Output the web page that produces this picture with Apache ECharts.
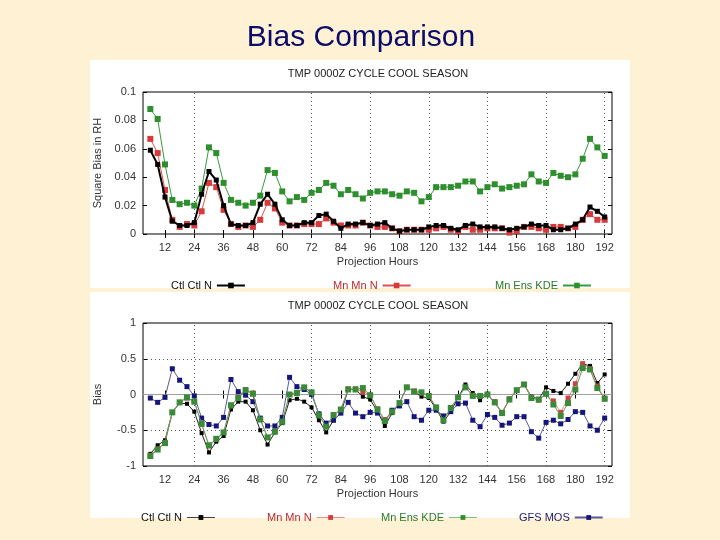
<!DOCTYPE html>
<html>
<head>
<meta charset="utf-8">
<script src="https://cdn.jsdelivr.net/npm/echarts@6/dist/echarts.min.js"></script>
<style>
html,body{margin:0;padding:0;background:#FFF1D3;}
#chart{width:720px;height:540px;}
</style>
</head>
<body>
<div id="chart"></div>
<script>
// ---- data ----
const hours = [6,9,12,15,18,21,24,27,30,33,36,39,42,45,48,51,54,57,60,63,66,69,72,75,78,81,84,87,90,93,96,99,102,105,108,111,114,117,120,123,126,129,132,135,138,141,144,147,150,153,156,159,162,165,168,171,174,177,180,183,186,189,192];
const xTickValues = [12,24,36,48,60,72,84,96,108,120,132,144,156,168,180,192];
const xGridValues = [24,72,96,120,144,168,192];

const seriesNames = ['Ctl Ctl N','Mn Mn N','Mn Ens KDE','GFS MOS'];

// top panel: square bias in rank histogram
const topCtl = [0.059,0.049,0.026,0.009,0.006,0.006,0.008,0.028,0.044,0.038,
  0.020,0.007,0.006,0.006,0.008,0.021,0.028,0.021,0.010,0.006,
  0.006,0.008,0.008,0.013,0.014,0.009,0.004,0.007,0.007,0.008,
  0.006,0.007,0.008,0.004,0.002,0.003,0.003,0.003,0.005,0.006,
  0.006,0.004,0.003,0.006,0.007,0.005,0.005,0.005,0.004,0.003,
  0.004,0.005,0.007,0.006,0.006,0.003,0.003,0.004,0.007,0.010,
  0.019,0.016,0.012];
const topMnN = [0.067,0.057,0.031,0.010,0.005,0.007,0.006,0.016,0.036,0.033,
  0.017,0.007,0.005,0.006,0.005,0.010,0.022,0.018,0.008,0.006,
  0.006,0.007,0.007,0.007,0.011,0.008,0.006,0.006,0.006,0.008,
  0.006,0.005,0.005,0.004,0.002,0.003,0.003,0.003,0.003,0.004,
  0.005,0.003,0.002,0.005,0.003,0.003,0.004,0.004,0.004,0.001,
  0.002,0.005,0.005,0.004,0.003,0.005,0.005,0.004,0.005,0.010,
  0.014,0.010,0.010];
const topKDE = [0.088,0.081,0.049,0.024,0.021,0.022,0.020,0.032,0.061,0.057,
  0.036,0.024,0.022,0.020,0.022,0.027,0.045,0.043,0.030,0.023,
  0.026,0.024,0.029,0.031,0.036,0.034,0.028,0.031,0.028,0.025,
  0.029,0.030,0.030,0.028,0.027,0.030,0.029,0.023,0.026,0.033,
  0.033,0.033,0.034,0.037,0.037,0.030,0.033,0.035,0.032,0.033,
  0.034,0.035,0.042,0.037,0.036,0.043,0.041,0.040,0.042,0.053,
  0.067,0.061,0.055];

// bottom panel: bias
const botCtl = [-0.83,-0.71,-0.64,-0.25,-0.12,-0.13,-0.24,-0.54,-0.81,-0.66,
  -0.58,-0.21,-0.10,-0.10,-0.22,-0.50,-0.70,-0.53,-0.40,-0.08,
  -0.06,-0.10,-0.18,-0.36,-0.53,-0.36,-0.26,0.07,0.07,-0.03,
  -0.07,-0.24,-0.44,-0.26,-0.12,0.10,0.04,-0.03,-0.05,-0.20,
  -0.38,-0.24,-0.04,0.14,0.02,-0.08,0.01,-0.12,-0.25,-0.07,
  0.06,0.14,-0.03,-0.065,0.10,0.05,0.02,0.15,0.29,0.43,
  0.40,0.16,0.28];
const botMnN = [-0.85,-0.76,-0.67,-0.25,-0.11,-0.05,-0.10,-0.42,-0.72,-0.63,
  -0.53,-0.16,-0.04,0.07,0.02,-0.34,-0.60,-0.51,-0.38,0.00,
  0.03,0.09,0.03,-0.28,-0.44,-0.28,-0.21,0.08,0.08,0.04,
  -0.01,-0.20,-0.35,-0.23,-0.12,0.10,0.05,0.02,-0.02,-0.18,
  -0.35,-0.18,-0.04,0.10,-0.01,-0.02,0.00,-0.10,-0.25,-0.06,
  0.06,0.14,-0.04,-0.08,0.01,-0.09,-0.25,-0.05,0.15,0.43,
  0.36,0.12,-0.05];
const botKDE = [-0.86,-0.77,-0.68,-0.25,-0.11,-0.04,-0.10,-0.41,-0.71,-0.62,
  -0.53,-0.15,-0.05,0.06,0.01,-0.35,-0.60,-0.52,-0.38,0.00,
  0.02,0.10,0.03,-0.29,-0.45,-0.29,-0.21,0.07,0.07,0.09,
  -0.01,-0.21,-0.37,-0.24,-0.12,0.10,0.04,0.03,-0.02,-0.18,
  -0.36,-0.19,-0.04,0.10,-0.02,-0.02,0.00,-0.11,-0.26,-0.07,
  0.06,0.14,-0.05,-0.07,0.01,-0.14,-0.30,-0.12,0.07,0.37,
  0.35,0.09,-0.06];
const botMOS = [-0.05,-0.11,-0.04,0.36,0.20,0.11,-0.02,-0.33,-0.42,-0.44,
  -0.32,0.21,0.04,-0.01,-0.10,-0.33,-0.44,-0.44,-0.32,0.24,
  0.11,0.07,0.00,-0.27,-0.40,-0.36,-0.26,-0.11,-0.26,-0.31,
  -0.25,-0.26,-0.38,-0.22,-0.16,-0.10,-0.31,-0.36,-0.22,-0.22,
  -0.30,-0.24,-0.13,-0.12,-0.36,-0.45,-0.28,-0.32,-0.43,-0.40,
  -0.31,-0.31,-0.52,-0.61,-0.39,-0.36,-0.41,-0.35,-0.24,-0.25,
  -0.44,-0.50,-0.33];

// ---- build ----
const FONT = 'Liberation Sans, Arial, Helvetica, sans-serif';
const pair = arr => hours.map((h, i) => [h, arr[i]]);

function xAxes(gi) {
  return [
    { gridIndex: gi, type: 'value', min: 3, max: 195, position: 'bottom',
      axisLine: { show: false },
      axisTick: { inside: true, length: 4, customValues: xTickValues, lineStyle: { color: '#000' } },
      axisLabel: { customValues: xTickValues, color: '#333', fontSize: 11, fontFamily: FONT, margin: 8 },
      splitLine: { show: false },
      name: 'Projection Hours', nameLocation: 'middle', nameGap: 28,
      nameTextStyle: { color: '#333', fontSize: 11, fontFamily: FONT, verticalAlign: 'middle' } },
    { gridIndex: gi, type: 'value', min: 3, max: 195, position: 'top',
      axisLine: { show: false },
      axisTick: { inside: true, length: 4, customValues: xTickValues, lineStyle: { color: '#000' } },
      axisLabel: { show: false }, splitLine: { show: false } }
  ];
}
function yAxes(gi, min, max, interval, name) {
  return [
    { gridIndex: gi, type: 'value', min, max, interval, position: 'left',
      axisLine: { show: false },
      axisTick: { show: true, inside: true, length: 4, lineStyle: { color: '#000' } },
      axisLabel: { color: '#333', fontSize: 11, fontFamily: FONT, margin: 7 },
      splitLine: { show: false },
      name, nameLocation: 'middle', nameGap: 40, nameRotate: 90,
      nameTextStyle: { color: '#333', fontSize: 11, fontFamily: FONT } },
    { gridIndex: gi, type: 'value', min, max, interval, position: 'right',
      axisLine: { show: false },
      axisTick: { show: true, inside: true, length: 4, lineStyle: { color: '#000' } },
      axisLabel: { show: false }, splitLine: { show: false } }
  ];
}
const vGrid = xGridValues.map(v => ({ xAxis: v }));

const option = {
  backgroundColor: '#FFF1D3',
  animation: false,
  textStyle: { fontFamily: FONT },
  graphic: [
    { type: 'rect', shape: { x: 90, y: 60, width: 540, height: 228 }, style: { fill: '#fff' }, z: -10, silent: true },
    { type: 'rect', shape: { x: 90, y: 292, width: 540, height: 226 }, style: { fill: '#fff' }, z: -10, silent: true },
    { type: 'text', x: 361, y: 38, style: { text: 'Bias Comparison', fill: '#0b0b6b', font: '30px ' + FONT, textAlign: 'center', textVerticalAlign: 'middle' } },
    { type: 'text', x: 378, y: 74, style: { text: 'TMP 0000Z CYCLE COOL SEASON', fill: '#222', font: '11px ' + FONT, textAlign: 'center', textVerticalAlign: 'middle' } },
    { type: 'text', x: 378, y: 306, style: { text: 'TMP 0000Z CYCLE COOL SEASON', fill: '#222', font: '11px ' + FONT, textAlign: 'center', textVerticalAlign: 'middle' } }
  ],
  grid: [
    { left: 143, top: 92, width: 469, height: 142, show: true, borderColor: '#000', borderWidth: 1, backgroundColor: 'transparent' },
    { left: 143, top: 323, width: 469, height: 143, show: true, borderColor: '#000', borderWidth: 1, backgroundColor: 'transparent' }
  ],
  xAxis: [...xAxes(0), ...xAxes(1)],
  yAxis: [...yAxes(0, 0, 0.1, 0.02, 'Square Bias in RH'), ...yAxes(1, -1, 1, 0.5, 'Bias')],
  legend: [
    { left: 166, top: 275, align: 'right', itemWidth: 28, itemHeight: 7, itemGap: 5,
      data: [{ name: seriesNames[0] }], textStyle: { color: '#111', fontSize: 11, fontFamily: FONT }, selectedMode: false },
    { left: 328, top: 275, align: 'right', itemWidth: 28, itemHeight: 7,
      data: [{ name: seriesNames[1] }], textStyle: { color: '#c0282d', fontSize: 11, fontFamily: FONT }, selectedMode: false },
    { left: 490, top: 275, align: 'right', itemWidth: 28, itemHeight: 7,
      data: [{ name: seriesNames[2] }], textStyle: { color: '#2a7a2a', fontSize: 11, fontFamily: FONT }, selectedMode: false },
    { left: 136, top: 507, align: 'right', itemWidth: 28, itemHeight: 6,
      data: [{ name: seriesNames[0], lineStyle: { width: 1, color: '#444' } }], textStyle: { color: '#111', fontSize: 11, fontFamily: FONT }, selectedMode: false },
    { left: 262, top: 507, align: 'right', itemWidth: 28, itemHeight: 6,
      data: [{ name: seriesNames[1], lineStyle: { width: 1, color: '#e89090' } }], textStyle: { color: '#c0282d', fontSize: 11, fontFamily: FONT }, selectedMode: false },
    { left: 376, top: 507, align: 'right', itemWidth: 28, itemHeight: 6,
      data: [{ name: seriesNames[2], lineStyle: { width: 1, color: '#80c080' } }], textStyle: { color: '#2a7a2a', fontSize: 11, fontFamily: FONT }, selectedMode: false },
    { left: 514, top: 507, align: 'right', itemWidth: 28, itemHeight: 6,
      data: [{ name: seriesNames[3] }], textStyle: { color: '#1a1a70', fontSize: 11, fontFamily: FONT }, selectedMode: false }
  ],
  series: [
    { name: seriesNames[0], type: 'line', xAxisIndex: 0, yAxisIndex: 0, data: pair(topCtl),
      symbol: 'rect', symbolSize: 5, itemStyle: { color: '#000' }, lineStyle: { color: '#000', width: 2 }, z: 4,
      markLine: { silent: true, symbol: ['none', 'none'], label: { show: false }, z: 1,
        lineStyle: { type: [1, 3], color: '#555', width: 1 }, data: vGrid } },
    { name: seriesNames[1], type: 'line', xAxisIndex: 0, yAxisIndex: 0, data: pair(topMnN),
      symbol: 'rect', symbolSize: 6, itemStyle: { color: '#d63a3a' }, lineStyle: { color: '#e05050', width: 1 }, z: 3 },
    { name: seriesNames[2], type: 'line', xAxisIndex: 0, yAxisIndex: 0, data: pair(topKDE),
      symbol: 'rect', symbolSize: 6, itemStyle: { color: '#2f8f2f' }, lineStyle: { color: '#3a9a3a', width: 1 }, z: 3 },

    { name: seriesNames[0], type: 'line', xAxisIndex: 2, yAxisIndex: 2, data: pair(botCtl),
      symbol: 'rect', symbolSize: 4, itemStyle: { color: '#000' }, lineStyle: { color: '#222', width: 1 }, z: 3,
      markLine: { silent: true, symbol: ['none', 'none'], label: { show: false }, z: 1,
        data: [
          ...xGridValues.map(v => ({ xAxis: v, lineStyle: { type: [1, 3], color: '#555', width: 1 } })),
          { yAxis: 0.5, lineStyle: { type: [1, 3], color: '#555', width: 1 } },
          { yAxis: -0.5, lineStyle: { type: [1, 3], color: '#555', width: 1 } },
          { yAxis: 0, lineStyle: { type: 'solid', color: '#a0a0a0', width: 1 } }
        ] } },
    { name: seriesNames[1], type: 'line', xAxisIndex: 2, yAxisIndex: 2, data: pair(botMnN),
      symbol: 'rect', symbolSize: 5, itemStyle: { color: '#d04040' }, lineStyle: { color: '#e89090', width: 1 }, z: 3 },
    { name: seriesNames[2], type: 'line', xAxisIndex: 2, yAxisIndex: 2, data: pair(botKDE),
      symbol: 'rect', symbolSize: 6, itemStyle: { color: '#3a8a3a' }, lineStyle: { color: '#5aa05a', width: 1 }, z: 4 },
    { name: seriesNames[3], type: 'line', xAxisIndex: 2, yAxisIndex: 2, data: pair(botMOS),
      symbol: 'rect', symbolSize: 5, itemStyle: { color: '#15157a' }, lineStyle: { color: '#5a5a9a', width: 1 }, z: 3 }
  ]
};

const chart = echarts.init(document.getElementById('chart'), null, { renderer: 'canvas' });
chart.setOption(option);
</script>
</body>
</html>
